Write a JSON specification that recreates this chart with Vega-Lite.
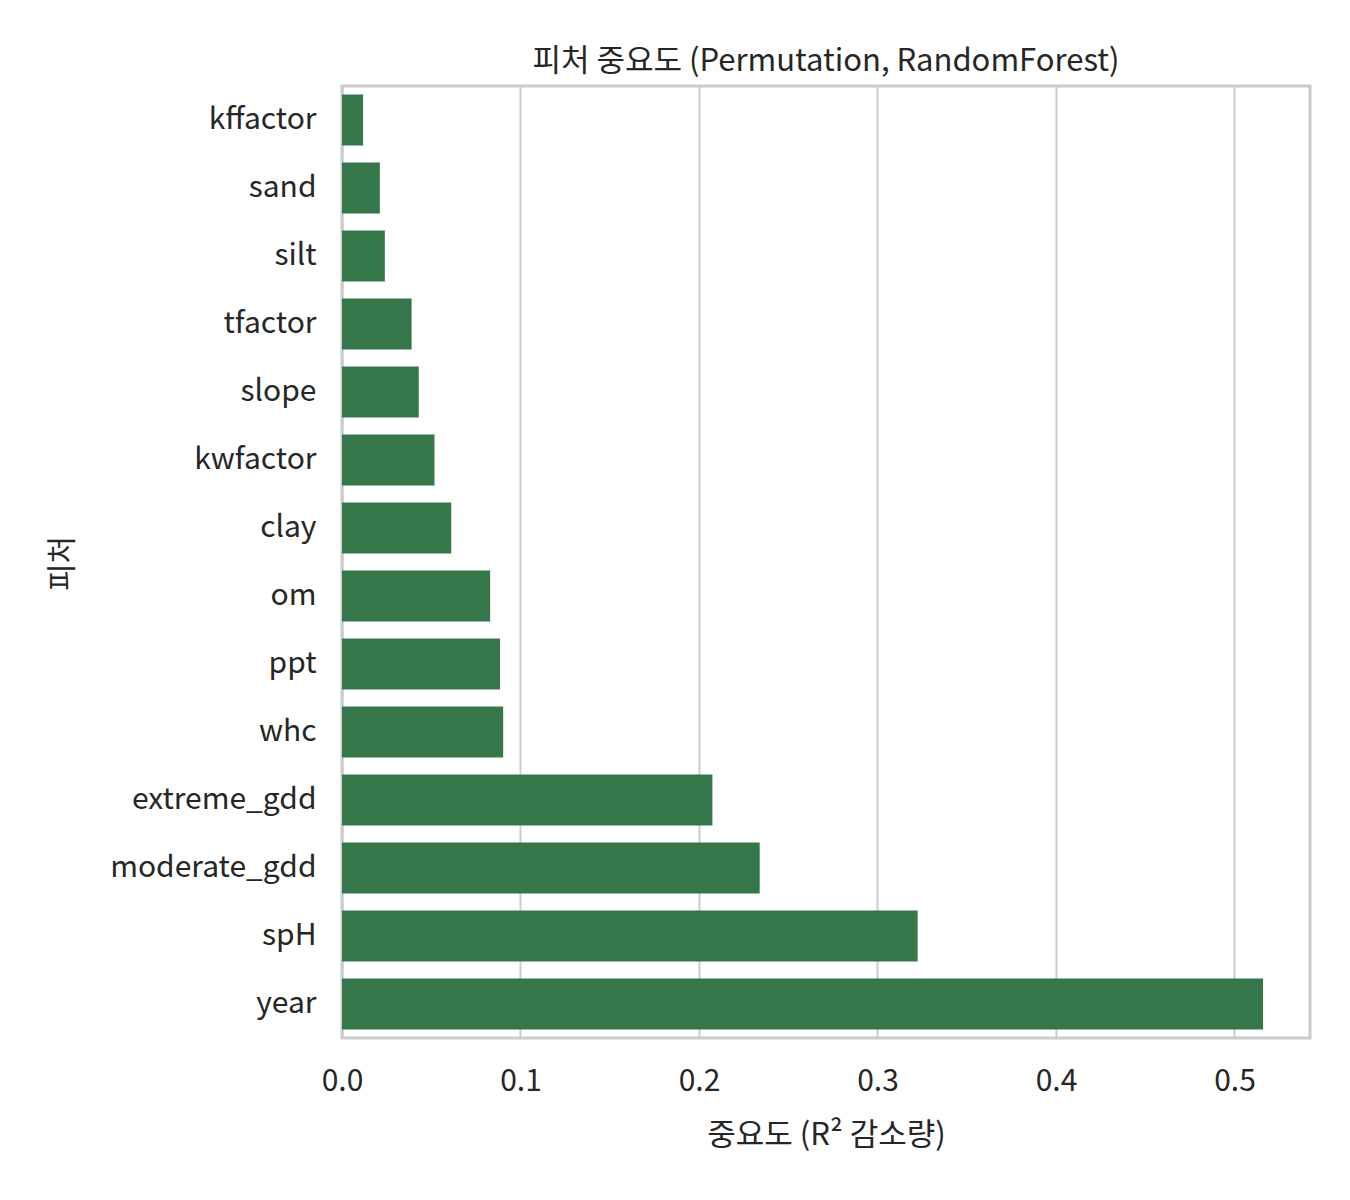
{
  "$schema": "https://vega.github.io/schema/vega-lite/v6.json",
  "width": 968,
  "height": 952,
  "autosize": "none",
  "padding": {"left": 342, "top": 86, "right": 40, "bottom": 162},
  "background": "white",
  "title": {
    "text": "피처 중요도 (Permutation, RandomForest)",
    "font": "Noto Sans CJK KR",
    "fontSize": 31,
    "fontWeight": "normal",
    "color": "#262626",
    "offset": 8
  },
  "data": {
    "values": [
      {"feature": "kffactor", "importance": 0.0118},
      {"feature": "sand", "importance": 0.0212},
      {"feature": "silt", "importance": 0.0240},
      {"feature": "tfactor", "importance": 0.0390},
      {"feature": "slope", "importance": 0.0430},
      {"feature": "kwfactor", "importance": 0.0518},
      {"feature": "clay", "importance": 0.0612},
      {"feature": "om", "importance": 0.0830},
      {"feature": "ppt", "importance": 0.0885},
      {"feature": "whc", "importance": 0.0903},
      {"feature": "extreme_gdd", "importance": 0.2075},
      {"feature": "moderate_gdd", "importance": 0.2340},
      {"feature": "spH", "importance": 0.3225},
      {"feature": "year", "importance": 0.5160}
    ]
  },
  "mark": {"type": "bar", "color": "#35764a"},
  "encoding": {
    "y": {
      "field": "feature",
      "type": "nominal",
      "sort": null,
      "title": "피처",
      "scale": {"paddingInner": 0.25, "paddingOuter": 0.125},
      "axis": {
        "domain": false,
        "ticks": false,
        "grid": false,
        "labelFont": "Noto Sans CJK KR",
        "labelFontSize": 30,
        "labelColor": "#262626",
        "labelPadding": 26,
        "labelLimit": 0,
        "titleFont": "Noto Sans CJK KR",
        "titleFontSize": 30,
        "titleFontWeight": "normal",
        "titleColor": "#262626",
        "titleX": -280,
        "titleY": 477,
        "titleAngle": -90,
        "titleAlign": "center",
        "titleBaseline": "middle"
      }
    },
    "x": {
      "field": "importance",
      "type": "quantitative",
      "title": "중요도 (R² 감소량)",
      "scale": {"domain": [0, 0.5423], "nice": false},
      "axis": {
        "values": [0, 0.1, 0.2, 0.3, 0.4, 0.5],
        "format": ".1f",
        "domain": false,
        "ticks": false,
        "labelFlush": false,
        "gridColor": "#cccccc",
        "gridWidth": 2,
        "labelFont": "Noto Sans CJK KR",
        "labelFontSize": 30,
        "labelColor": "#262626",
        "labelPadding": 28,
        "titleFont": "Noto Sans CJK KR",
        "titleFontSize": 31,
        "titleFontWeight": "normal",
        "titleColor": "#262626",
        "titlePadding": 24
      }
    }
  },
  "config": {
    "view": {"stroke": "#cccccc", "strokeWidth": 3}
  }
}
